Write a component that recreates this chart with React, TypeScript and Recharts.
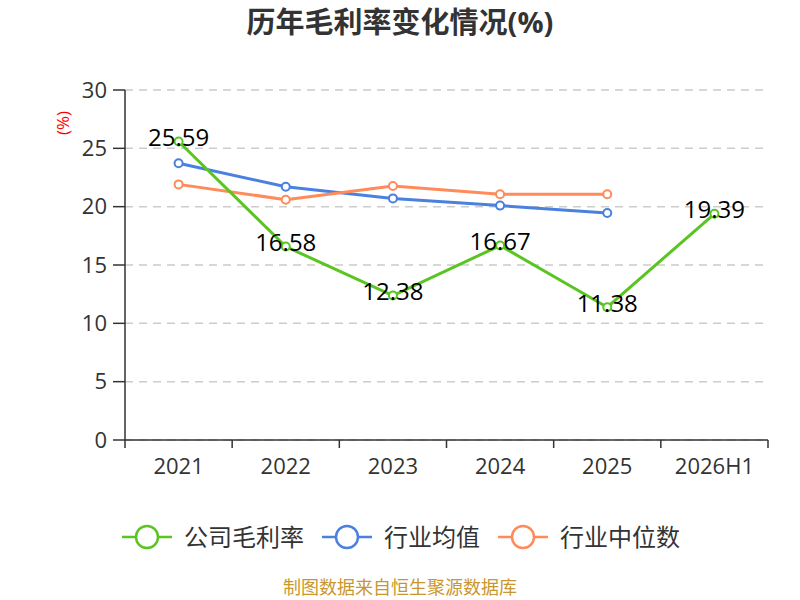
import { LineChart, Line, XAxis, YAxis, CartesianGrid, LabelList } from 'recharts'

const years = ['2021', '2022', '2023', '2024', '2025', '2026H1']
const companyMargin = [25.59, 16.58, 12.38, 16.67, 11.38, 19.39]
const industryAvg = [23.72, 21.71, 20.71, 20.09, 19.46, null]
const industryMedian = [21.91, 20.6, 21.77, 21.06, 21.06, null]
const yTicks = [0, 5, 10, 15, 20, 25, 30]

const data = years.map((year, i) => ({
  year,
  company: companyMargin[i],
  avg: industryAvg[i],
  median: industryMedian[i],
}))

const FONT = '"Open Sans", "Noto Sans CJK SC", sans-serif'
const GREEN = '#5ac420'
const BLUE = '#4a80e0'
const ORANGE = '#ff8a5a'

const CHART_W = 800
const CHART_H = 600
const LEFT = 125
const RIGHT = 32
const BAND = (CHART_W - LEFT - RIGHT) / years.length

const XTick = (props: any) => {
  const { x, y, payload, index } = props
  const left = x - BAND / 2
  return (
    <g>
      <line x1={left} y1={y} x2={left} y2={y + 8} stroke="#333" strokeWidth={1.5} />
      {index === years.length - 1 && (
        <line x1={x + BAND / 2} y1={y} x2={x + BAND / 2} y2={y + 8} stroke="#333" strokeWidth={1.5} />
      )}
      <text x={x} y={y + 28} textAnchor="middle" dominantBaseline="middle" fill="#333" fontSize={22} fontFamily={FONT}>
        {payload.value}
      </text>
    </g>
  )
}

const ValueLabel = (props: any) => {
  const { x, y, value } = props
  return (
    <text x={x} y={y - 2} textAnchor="middle" dominantBaseline="middle" fill="#000" fontSize={24} fontFamily={FONT}>
      {value}
    </text>
  )
}

const legendItems = [
  { name: '公司毛利率', color: GREEN },
  { name: '行业均值', color: BLUE },
  { name: '行业中位数', color: ORANGE },
]

const LegendIcon = ({ color }: { color: string }) => (
  <svg width={50} height={26} style={{ marginRight: 12 }}>
    <line x1={0} y1={13} x2={50} y2={13} stroke={color} strokeWidth={2.5} />
    <circle cx={25} cy={13} r={11} fill="#fff" stroke={color} strokeWidth={2.5} />
  </svg>
)

export default function App() {
  return (
    <div style={{ position: 'absolute', left: 0, top: 0, width: CHART_W, height: CHART_H, fontFamily: FONT, background: '#fff' }}>
      <div style={{ position: 'absolute', top: 4, width: '100%', textAlign: 'center', fontSize: 29, lineHeight: '36px', fontWeight: 'bold', color: '#333' }}>
        历年毛利率变化情况(%)
      </div>
      <LineChart width={CHART_W} height={CHART_H} data={data} margin={{ top: 90, right: RIGHT, bottom: 120, left: 0 }}>
        <CartesianGrid vertical={false} stroke="#ccc" strokeDasharray="8 6" strokeWidth={1.5} />
        <XAxis
          dataKey="year"
          scale="band"
          height={40}
          axisLine={{ stroke: '#333', strokeWidth: 1.5 }}
          tickLine={false}
          tickSize={0}
          tickMargin={0}
          tick={<XTick />}
          interval={0}
        />
        <YAxis
          width={LEFT}
          domain={[0, 30]}
          ticks={yTicks}
          tickSize={12}
          tickMargin={6}
          axisLine={{ stroke: '#333', strokeWidth: 1.5 }}
          tickLine={{ stroke: '#333', strokeWidth: 1.5 }}
          tick={{ fill: '#333', fontSize: 22, fontFamily: FONT }}
          label={{ value: '(%)', angle: -90, position: 'insideTopLeft', dx: 52, dy: 40, fill: 'red', fontSize: 17, fontFamily: FONT }}
        />
        <Line
          dataKey="avg"
          stroke={BLUE}
          strokeWidth={3}
          dot={{ r: 4, fill: '#fff', stroke: BLUE, strokeWidth: 2 }}
          isAnimationActive={false}
        />
        <Line
          dataKey="median"
          stroke={ORANGE}
          strokeWidth={3}
          dot={{ r: 4, fill: '#fff', stroke: ORANGE, strokeWidth: 2 }}
          isAnimationActive={false}
        />
        <Line
          dataKey="company"
          stroke={GREEN}
          strokeWidth={3}
          dot={{ r: 4, fill: '#fff', stroke: GREEN, strokeWidth: 2 }}
          isAnimationActive={false}
        >
          <LabelList dataKey="company" content={<ValueLabel />} />
        </Line>
      </LineChart>
      <div style={{ position: 'absolute', top: 523, left: 122, display: 'flex', alignItems: 'center', lineHeight: '28px' }}>
        {legendItems.map((item) => (
          <div key={item.name} style={{ display: 'flex', alignItems: 'center', marginRight: 18 }}>
            <LegendIcon color={item.color} />
            <span style={{ fontSize: 24, color: '#333' }}>{item.name}</span>
          </div>
        ))}
      </div>
      <div style={{ position: 'absolute', top: 577, width: '100%', textAlign: 'center', fontSize: 18, lineHeight: '20px', color: '#c9972e' }}>
        制图数据来自恒生聚源数据库
      </div>
    </div>
  )
}
